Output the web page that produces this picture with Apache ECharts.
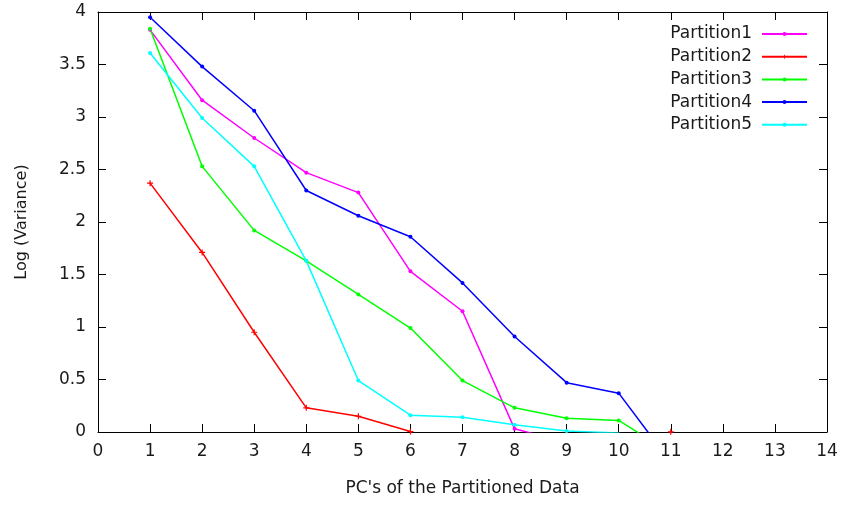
<!DOCTYPE html>
<html>
<head>
<meta charset="utf-8">
<script src="https://cdn.jsdelivr.net/npm/echarts@6/dist/echarts.min.js"></script>
<style>
  html, body { margin: 0; padding: 0; background: #fff; }
  #chart { width: 845px; height: 505px; }
</style>
</head>
<body>
<div id="chart"></div>
<script>
// PC index (x) and log variance per partition.
// values below 0 fall outside the y range and only show as lines running into the axis
const pcs = [1, 2, 3, 4, 5, 6, 7, 8, 9, 10, 11, 12];
const partition1 = [3.83, 3.16, 2.80, 2.47, 2.28, 1.53, 1.15, 0.03, -0.10, -0.40, -0.60, -0.80];
const partition2 = [2.37, 1.71, 0.95, 0.23, 0.15, 0.005, -0.60, -1.00, -1.20, -1.50, 0.002, -0.80];
const partition3 = [3.84, 2.53, 1.92, 1.63, 1.31, 0.99, 0.49, 0.23, 0.13, 0.11, -0.20, -0.50];
const partition4 = [3.95, 3.48, 3.06, 2.30, 2.06, 1.86, 1.42, 0.91, 0.47, 0.37, -0.29, -0.60];
const partition5 = [3.61, 2.99, 2.53, 1.63, 0.49, 0.16, 0.14, 0.07, 0.01, -0.01, -0.30, -0.50];

const seriesNames = ['Partition1', 'Partition2', 'Partition3', 'Partition4', 'Partition5'];
const seriesValues = [partition1, partition2, partition3, partition4, partition5];
const colors = ['#ff00ff', '#ff0000', '#00ff00', '#0000ff', '#00ffff'];
const plusSymbol = 'path://M4,0H6V4H10V6H6V10H4V6H0V4H4Z';

const font = 'DejaVu Sans';
const textColor = '#1a1a1a';

const chart = echarts.init(document.getElementById('chart'));

// top / right copies of the axes, gnuplot style border with mirrored ticks
const mirrorAxis = {
    min: 0,
    axisLine: { show: true, onZero: false, lineStyle: { color: '#000', width: 1 } },
    axisTick: { show: true, inside: true, length: 8, lineStyle: { color: '#000' } },
    axisLabel: { show: false },
    splitLine: { show: false }
};

const option = {
    animation: false,
    grid: { left: 98, right: 18, top: 12, bottom: 73 },
    legend: {
        orient: 'vertical',
        right: 37,
        top: 25,
        padding: 0,
        align: 'right',
        itemWidth: 45,
        itemHeight: 5,
        itemGap: 4.7,
        data: seriesNames,
        textStyle: { fontFamily: font, fontSize: 17, color: textColor, lineHeight: 18, padding: [0, 5, 0, 0] }
    },
    xAxis: [
        {
            type: 'value',
            min: 0,
            max: 14,
            interval: 1,
            name: "PC's of the Partitioned Data",
            nameLocation: 'middle',
            nameGap: 48,
            nameTextStyle: { fontFamily: font, fontSize: 17, color: textColor },
            axisLine: { show: true, onZero: false, lineStyle: { color: '#000', width: 1 } },
            axisTick: { show: true, inside: true, length: 8, lineStyle: { color: '#000' } },
            axisLabel: { fontFamily: font, fontSize: 17, color: textColor, margin: 11 },
            splitLine: { show: false }
        },
        Object.assign({ type: 'value', position: 'top', max: 14, interval: 1 }, mirrorAxis)
    ],
    yAxis: [
        {
            type: 'value',
            min: 0,
            max: 4,
            interval: 0.5,
            name: 'Log (Variance)',
            nameLocation: 'middle',
            nameGap: 68,
            nameTextStyle: { fontFamily: font, fontSize: 16, color: textColor },
            axisLine: { show: true, onZero: false, lineStyle: { color: '#000', width: 1 } },
            axisTick: { show: true, inside: true, length: 8, lineStyle: { color: '#000' } },
            axisLabel: { fontFamily: font, fontSize: 17, color: textColor, margin: 12 },
            splitLine: { show: false }
        },
        Object.assign({ type: 'value', position: 'right', max: 4, interval: 0.5 }, mirrorAxis)
    ],
    series: seriesNames.map((name, i) => ({
        name: name,
        type: 'line',
        xAxisIndex: 0,
        yAxisIndex: 0,
        clip: true,
        data: pcs.map((x, j) => [x, seriesValues[i][j]]),
        symbol: i === 1 ? plusSymbol : 'circle',
        symbolSize: i === 1 ? 6 : 4,
        showSymbol: true,
        itemStyle: { color: colors[i] },
        lineStyle: { color: colors[i], width: 1.5 },
        emphasis: { disabled: true }
    }))
};

chart.setOption(option);
</script>
</body>
</html>
